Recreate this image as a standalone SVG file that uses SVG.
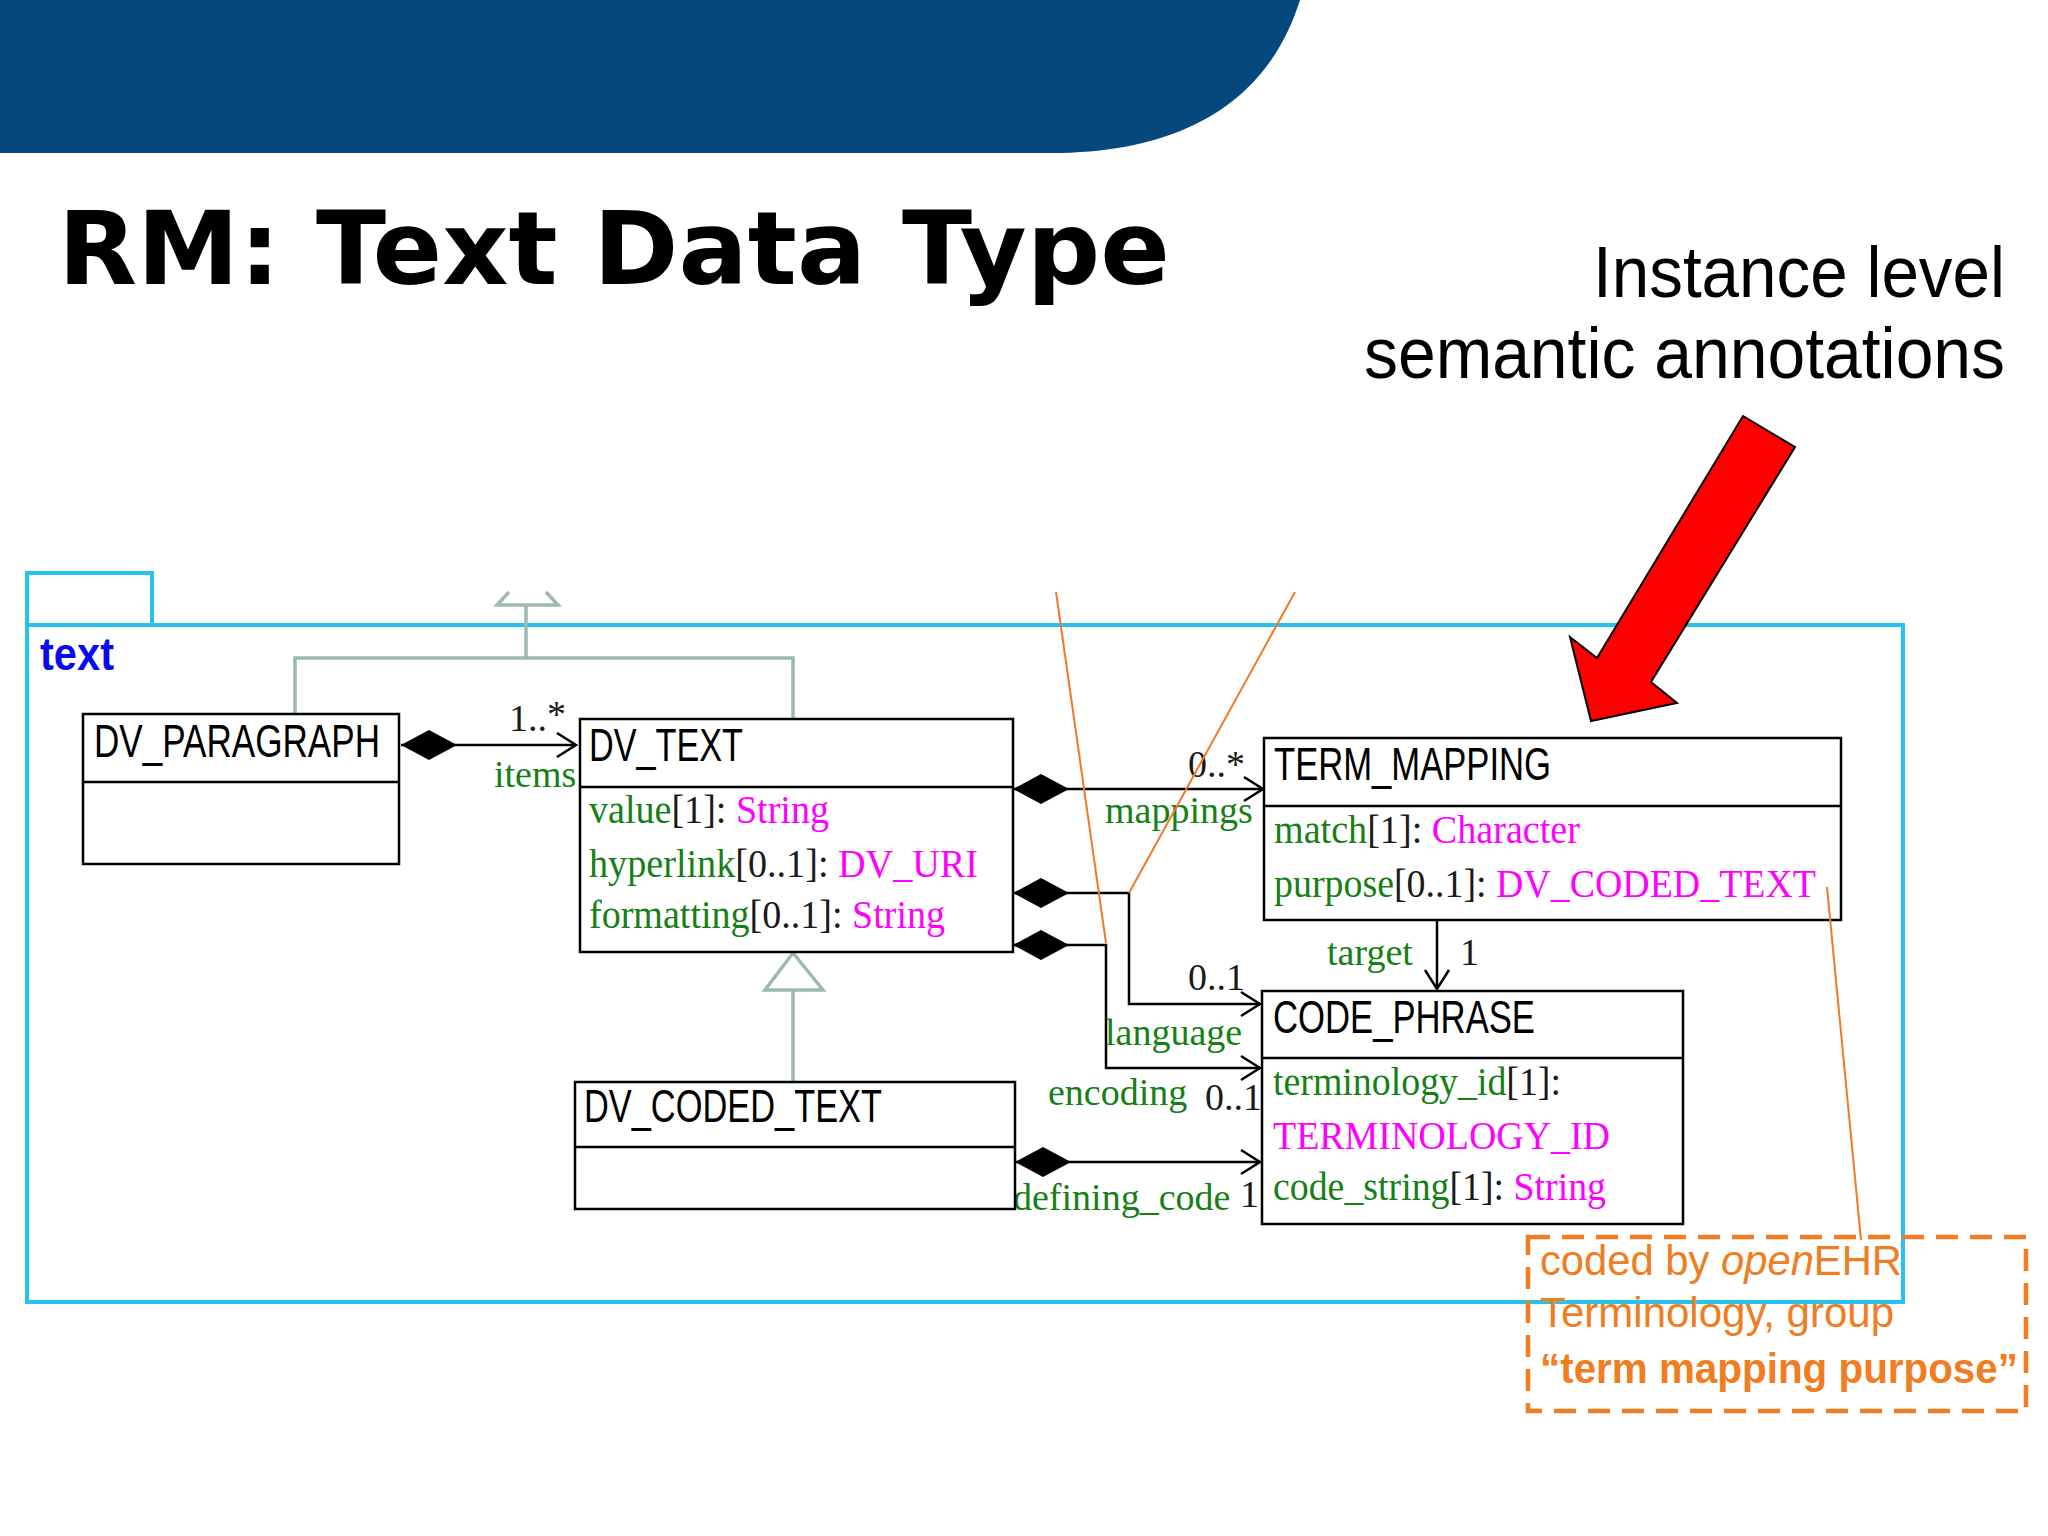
<svg xmlns="http://www.w3.org/2000/svg" width="2048" height="1536" viewBox="0 0 2048 1536">
<defs>
<style>
.box{fill:#fff;stroke:#000;stroke-width:2.5}
.div{stroke:#000;stroke-width:2.5}
.title{font-family:"Liberation Sans",Arial,sans-serif;font-size:46px;fill:#000}
.attr{font-family:"Liberation Serif","Times New Roman",serif;font-size:40px}
.lbl{font-family:"Liberation Serif","Times New Roman",serif;font-size:38px}
.g{fill:#168016}
.k{fill:#1a1a1a}
.m{fill:#ff00ff}
.conn{fill:none;stroke:#000;stroke-width:2.5}
.gen{fill:none;stroke:#9db8b5;stroke-width:3.5}
.orange{stroke:#f07a24;stroke-width:2;fill:none}
.note{font-family:"Liberation Sans",Arial,sans-serif;font-size:42px;fill:#f07d22}
</style>
<marker id="open" markerUnits="userSpaceOnUse" viewBox="-2 -2 24 28" markerWidth="24" markerHeight="28" refX="19" refY="12" orient="auto">
<path d="M0,0 L19,12 L0,24" fill="none" stroke="#000" stroke-width="2.5"/>
</marker>
<marker id="diamond" markerUnits="userSpaceOnUse" viewBox="0 0 58 32" markerWidth="58" markerHeight="32" refX="1" refY="16" orient="auto">
<path d="M1,16 L29,1 L57,16 L29,31 Z" fill="#000"/>
</marker>
</defs>
<rect width="2048" height="1536" fill="#fff"/>
<path id="band" d="M0,0 H1300 C1275,80 1210,150 1060,153 H0 Z" fill="#06477e"/>
<text x="58" y="284" font-family="DejaVu Sans,Verdana,sans-serif" font-weight="bold" font-size="101" textLength="1112" lengthAdjust="spacingAndGlyphs">RM: Text Data Type</text>
<text x="2005" y="297" text-anchor="end" font-family="Liberation Sans,Arial,sans-serif" font-size="72" textLength="412" lengthAdjust="spacingAndGlyphs">Instance level</text>
<text x="2005" y="378" text-anchor="end" font-family="Liberation Sans,Arial,sans-serif" font-size="72" textLength="641" lengthAdjust="spacingAndGlyphs">semantic annotations</text>

<g id="package">
<rect x="27" y="573" width="125" height="52" fill="none" stroke="#27c3ef" stroke-width="4"/>
<rect x="27" y="625" width="1876" height="677" fill="none" stroke="#27c3ef" stroke-width="4"/>
<text x="40" y="670" font-family="Liberation Sans,Arial,sans-serif" font-weight="bold" font-size="46" fill="#0a0aee" textLength="74" lengthAdjust="spacingAndGlyphs">text</text>
</g>

<g id="connectors">
<polyline class="gen" points="509,592 497,605 558,605 546,592"/>
<polyline class="gen" points="526,605 526,658"/>
<polyline class="gen" points="295,714 295,658 793,658 793,718"/>
<polyline class="gen" points="793,1082 793,990"/>
<polygon points="793,953 765,990 823,990" fill="#fff" stroke="#9db8b5" stroke-width="3.5"/>
<path class="conn" d="M401,745 H576" marker-start="url(#diamond)" marker-end="url(#open)"/>
<path class="conn" d="M1013,789 H1263" marker-start="url(#diamond)" marker-end="url(#open)"/>
<path class="conn" d="M1013,893 H1129 V1004 H1260" marker-start="url(#diamond)" marker-end="url(#open)"/>
<path class="conn" d="M1013,945 H1106 V1068 H1260" marker-start="url(#diamond)" marker-end="url(#open)"/>
<path class="conn" d="M1015,1162 H1260" marker-start="url(#diamond)" marker-end="url(#open)"/>
<path class="conn" d="M1437,920 V989" marker-end="url(#open)"/>
<text class="lbl k" x="509" y="731">1..<tspan dy="-4">*</tspan></text>
<text class="lbl g" x="494" y="787">items</text>
<text class="lbl k" x="1188" y="777">0..*</text>
<text class="lbl g" x="1105" y="823">mappings</text>
<text class="lbl k" x="1188" y="990">0..1</text>
<text class="lbl g" x="1105" y="1045">language</text>
<text class="lbl g" x="1048" y="1105">encoding</text>
<text class="lbl k" x="1205" y="1110">0..1</text>
<text class="lbl g" x="1013" y="1210">defining_code</text>
<text class="lbl k" x="1240" y="1207">1</text>
<text class="lbl g" x="1327" y="965">target</text>
<text class="lbl k" x="1460" y="965">1</text>
</g>

<g id="DV_PARAGRAPH">
<rect class="box" x="83" y="714" width="316" height="150"/>
<line class="div" x1="83" y1="782" x2="399" y2="782"/>
<text class="title" x="94" y="757" textLength="286" lengthAdjust="spacingAndGlyphs">DV_PARAGRAPH</text>
</g>

<g id="DV_TEXT">
<rect class="box" x="580" y="719" width="433" height="233"/>
<line class="div" x1="580" y1="787" x2="1013" y2="787"/>
<text class="title" x="589" y="761" textLength="154" lengthAdjust="spacingAndGlyphs">DV_TEXT</text>
<text class="attr" x="589" y="823" textLength="240" lengthAdjust="spacingAndGlyphs"><tspan class="g">value</tspan><tspan class="k">[1]: </tspan><tspan class="m">String</tspan></text>
<text class="attr" x="589" y="877" textLength="389" lengthAdjust="spacingAndGlyphs"><tspan class="g">hyperlink</tspan><tspan class="k">[0..1]: </tspan><tspan class="m">DV_URI</tspan></text>
<text class="attr" x="589" y="928" textLength="356" lengthAdjust="spacingAndGlyphs"><tspan class="g">formatting</tspan><tspan class="k">[0..1]: </tspan><tspan class="m">String</tspan></text>
</g>

<g id="DV_CODED_TEXT">
<rect class="box" x="575" y="1082" width="440" height="127"/>
<line class="div" x1="575" y1="1147" x2="1015" y2="1147"/>
<text class="title" x="584" y="1122" textLength="298" lengthAdjust="spacingAndGlyphs">DV_CODED_TEXT</text>
</g>

<g id="TERM_MAPPING">
<rect class="box" x="1264" y="738" width="577" height="182"/>
<line class="div" x1="1264" y1="806" x2="1841" y2="806"/>
<text class="title" x="1274" y="780" textLength="277" lengthAdjust="spacingAndGlyphs">TERM_MAPPING</text>
<text class="attr" x="1274" y="843" textLength="306" lengthAdjust="spacingAndGlyphs"><tspan class="g">match</tspan><tspan class="k">[1]: </tspan><tspan class="m">Character</tspan></text>
<text class="attr" x="1274" y="897" textLength="542" lengthAdjust="spacingAndGlyphs"><tspan class="g">purpose</tspan><tspan class="k">[0..1]: </tspan><tspan class="m">DV_CODED_TEXT</tspan></text>
</g>

<g id="CODE_PHRASE">
<rect class="box" x="1262" y="991" width="421" height="233"/>
<line class="div" x1="1262" y1="1058" x2="1683" y2="1058"/>
<text class="title" x="1273" y="1033" textLength="262" lengthAdjust="spacingAndGlyphs">CODE_PHRASE</text>
<text class="attr" x="1273" y="1095" textLength="288" lengthAdjust="spacingAndGlyphs"><tspan class="g">terminology_id</tspan><tspan class="k">[1]:</tspan></text>
<text class="attr m" x="1273" y="1149" textLength="337" lengthAdjust="spacingAndGlyphs">TERMINOLOGY_ID</text>
<text class="attr" x="1273" y="1200" textLength="333" lengthAdjust="spacingAndGlyphs"><tspan class="g">code_string</tspan><tspan class="k">[1]: </tspan><tspan class="m">String</tspan></text>
</g>

<g id="annotation">
<line class="orange" x1="1056" y1="592" x2="1106" y2="943"/>
<line class="orange" x1="1295" y1="592" x2="1129" y2="893"/>
<line class="orange" x1="1827" y1="887" x2="1861" y2="1240"/>
<rect x="1528" y="1237" width="498" height="174" fill="none" stroke="#f07d22" stroke-width="4.5" stroke-dasharray="22 12"/>
<text class="note" x="1540" y="1275" textLength="362" lengthAdjust="spacingAndGlyphs">coded by <tspan font-style="italic">open</tspan>EHR</text>
<text class="note" x="1540" y="1327" textLength="354" lengthAdjust="spacingAndGlyphs">Terminology, group</text>
<text class="note" x="1540" y="1383" font-weight="bold" textLength="478" lengthAdjust="spacingAndGlyphs">“term mapping purpose”</text>
</g>

<polygon id="red-arrow" points="1743,416 1795,447 1651,682 1677,703 1591,721 1570,637 1597,658" fill="#ff0000" stroke="#000" stroke-width="2"/>
</svg>
